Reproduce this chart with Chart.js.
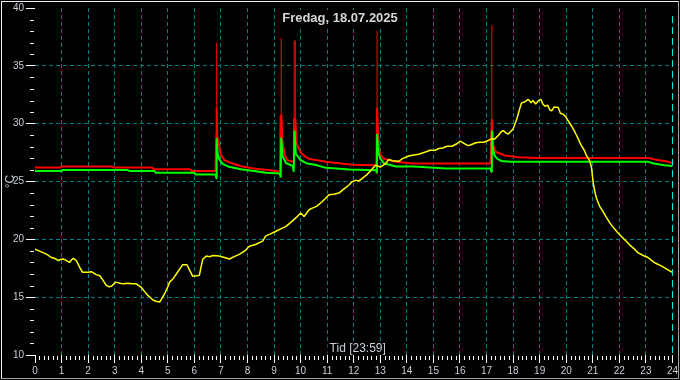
<!DOCTYPE html>
<html>
<head>
<meta charset="utf-8">
<script src="https://cdn.jsdelivr.net/npm/chart.js@4.4.1/dist/chart.umd.min.js"></script>
<style>
  html, body { margin: 0; padding: 0; background: #000; }
  #wrap { position: relative; width: 680px; height: 380px; }
  #frame {
    position: absolute; left: 1px; top: 1px; width: 678px; height: 378px;
    box-sizing: border-box; border: 1px solid; pointer-events: none;
    border-color: #f0f0f0 #a0a0a0 #a0a0a0 #f0f0f0;
  }
</style>
</head>
<body>
<div id="wrap">
  <canvas id="chart" width="680" height="380"></canvas>
  <div id="frame"></div>
</div>
<script>
// Tekster
const titleText = 'Fredag, 18.07.2025';
const xTitleText = 'Tid [23:59]';
const yTitleText = '°C';

// Akser
const xMin = 0, xMax = 24, xStep = 1;
const yMin = 10, yMax = 40, yStep = 5;

// Rød måler (timer / grader)
const redTimes = [0, 0.95, 1.0, 2.9, 3.0, 4.4, 4.5, 5.85, 5.9, 6.78, 6.8, 6.83, 6.84, 6.86, 6.9, 6.95, 7.0, 7.13, 7.45, 7.8, 8.3, 8.8, 9.22,
  9.25, 9.28, 9.31, 9.4, 9.5, 9.72, 9.75, 9.8, 9.85, 10.0, 10.15, 10.3, 10.95, 11.95, 12.85, 12.88, 12.92, 12.98, 13.1, 13.6, 14.25,
  17.15, 17.2, 17.25, 17.35, 17.7, 18.2, 18.95, 23.1, 23.45, 23.85, 24];
const redTemps = [26.2, 26.2, 26.3, 26.3, 26.2, 26.2, 26.05, 26.05, 25.9, 25.9, 26.5, 29.1, 31.4, 29.0, 28.6, 27.85, 27.3, 26.85, 26.55, 26.3, 26.1, 26.0, 25.85,
  30.7, 30.7, 28.6, 27.3, 26.85, 26.7, 30.4, 30.4, 28.3, 27.5, 27.2, 26.97, 26.7, 26.45, 26.4, 31.4, 29.0, 27.4, 27.0, 26.7, 26.55,
  26.55, 30.4, 28.1, 27.55, 27.25, 27.1, 27.03, 27.03, 26.85, 26.7, 26.6];

// Grønn måler
const greenTimes = [0, 1.0, 1.05, 3.5, 3.55, 4.5, 4.55, 6.0, 6.05, 6.8, 6.83, 6.84, 6.87, 6.93, 7.05, 7.3, 7.8, 8.25, 8.7, 9.22,
  9.25, 9.27, 9.32, 9.45, 9.7, 9.74, 9.77, 9.82, 10.0, 10.25, 10.55, 10.95, 11.85, 12.85, 12.87, 12.88, 12.92, 13.0, 13.15, 13.6, 14.26,
  15.5, 17.15, 17.18, 17.2, 17.25, 17.3, 17.4, 17.55, 17.9, 23.1, 23.3, 23.7, 24];
const greenTemps = [25.9, 25.9, 26.0, 26.0, 25.9, 25.9, 25.75, 25.75, 25.6, 25.6, 25.27, 28.75, 27.5, 26.97, 26.55, 26.27, 26.03, 25.9, 25.75, 25.7,
  25.35, 28.8, 27.2, 26.6, 26.35, 25.84, 29.4, 27.4, 26.85, 26.55, 26.45, 26.18, 26.03, 25.98, 25.7, 29.1, 27.6, 26.97, 26.55, 26.3, 26.3,
  26.12, 26.12, 25.84, 29.4, 27.7, 27.26, 26.97, 26.78, 26.7, 26.7, 26.55, 26.4, 26.35];

// Topper (tynne streker)
const spikeTimes = [6.84, 9.27, 9.76, 9.8, 12.88, 17.2];
const spikeBases = [31.4, 30.7, 30.4, 30.4, 31.4, 30.4];
const spikePeaks = [37.0, 37.4, 37.2, 37.2, 38.0, 38.5];

// Gul måler (ute)
const yellowTimes = [0, 0.15, 0.3, 0.45, 0.6, 0.75, 0.88, 0.95, 1.06, 1.15, 1.3, 1.38, 1.45, 1.56, 1.68, 1.79, 2.0, 2.12, 2.3, 2.44,
  2.55, 2.69, 2.8, 2.88, 3.04, 3.2, 3.31, 3.5, 3.65, 3.81, 4.0, 4.12, 4.25, 4.35, 4.44, 4.55, 4.69, 4.78, 4.88, 5.0,
  5.07, 5.2, 5.32, 5.45, 5.56, 5.72, 5.83, 5.94, 6.1, 6.19, 6.25, 6.32, 6.45, 6.57, 6.7, 6.94, 7.1, 7.32, 7.5, 7.69,
  7.9, 8.07, 8.3, 8.57, 8.69, 8.85, 9.07, 9.25, 9.44, 9.62, 9.82, 10.0, 10.13, 10.32, 10.44, 10.6, 10.82, 10.94, 11.07, 11.25,
  11.44, 11.6, 11.82, 11.94, 12.07, 12.2, 12.32, 12.5, 12.69, 12.82, 13.0, 13.1, 13.2, 13.32, 13.45, 13.7, 13.85, 14.07, 14.26, 14.45,
  14.7, 14.88, 15.07, 15.2, 15.35, 15.51, 15.7, 15.88, 16.01, 16.15, 16.3, 16.39, 16.6, 16.75, 16.89, 17.07, 17.2, 17.3, 17.45, 17.55,
  17.64, 17.73, 17.82, 17.92, 18.0, 18.14, 18.25, 18.32, 18.45, 18.57, 18.68, 18.75, 18.85, 18.95, 19.05, 19.12, 19.2, 19.3, 19.38, 19.45,
  19.55, 19.7, 19.78, 19.89, 19.98, 20.07, 20.2, 20.33, 20.45, 20.57, 20.68, 20.76, 20.88, 20.95, 21.01, 21.07, 21.14, 21.25, 21.39, 21.5,
  21.65, 21.8, 21.95, 22.1, 22.25, 22.4, 22.55, 22.7, 22.9, 23.08, 23.2, 23.35, 23.58, 23.8, 24.0];
const yellowTemps = [19.15, 19.0, 18.85, 18.7, 18.45, 18.35, 18.15, 18.25, 18.3, 18.2, 18.0, 18.25, 18.35, 18.15, 17.6, 17.15, 17.15, 17.2, 16.95, 16.85,
  16.5, 16.0, 15.9, 15.95, 16.3, 16.2, 16.15, 16.2, 16.15, 16.15, 15.85, 15.5, 15.15, 14.95, 14.75, 14.65, 14.58, 14.9, 15.3, 15.9,
  16.3, 16.6, 17.0, 17.45, 17.8, 17.8, 17.3, 16.8, 16.85, 16.9, 17.6, 18.3, 18.55, 18.5, 18.6, 18.55, 18.45, 18.3, 18.5, 18.7,
  19.0, 19.4, 19.55, 19.85, 20.3, 20.45, 20.7, 20.9, 21.1, 21.45, 21.85, 22.27, 21.98, 22.56, 22.7, 22.85, 23.27, 23.55, 23.85, 23.9,
  24.0, 24.3, 24.7, 24.98, 25.1, 25.05, 25.27, 25.6, 26.07, 26.4, 26.25, 26.4, 26.55, 26.9, 26.8, 26.75, 27.0, 27.2, 27.3, 27.35,
  27.55, 27.7, 27.7, 27.85, 27.9, 28.05, 28.05, 28.26, 28.5, 28.3, 28.1, 28.15, 28.35, 28.4, 28.4, 28.55, 28.7, 28.65, 29.0, 29.3,
  29.4, 29.2, 29.1, 29.35, 29.54, 30.4, 31.3, 31.8, 31.9, 32.1, 31.8, 32.0, 31.7, 31.97, 32.1, 31.7, 31.5, 31.6, 31.2, 31.1,
  31.45, 31.4, 30.9, 30.8, 30.6, 30.26, 29.8, 29.26, 28.7, 28.1, 27.7, 27.26, 26.8, 26.27, 25.0, 24.2, 23.55, 22.9, 22.4, 21.95,
  21.4, 20.95, 20.55, 20.2, 19.85, 19.5, 19.2, 18.85, 18.6, 18.43, 18.2, 17.95, 17.7, 17.4, 17.15];

// Farger
const COLORS = {
  red: '#ff0000',
  green: '#00ff00',
  yellow: '#ffff00',
  grid: '#008080',
  nowLine: '#00e8e8',
  tick: '#ffffff',
  label: '#c8ced8',
  title: '#d6d6d6'
};
const FONT = '"Liberation Sans", Arial, sans-serif';

function toPoints(times, temps) {
  return times.map((t, i) => ({ x: t, y: temps[i] }));
}

function spikePoints() {
  const pts = [];
  spikeTimes.forEach((t, i) => {
    pts.push({ x: t, y: spikeBases[i] });
    pts.push({ x: t, y: spikePeaks[i] });
    pts.push({ x: t, y: null });
  });
  return pts;
}

// Tekst, små streker og "nå"-linje
const overlayPlugin = {
  id: 'overlay',
  afterDraw(chart) {
    const { ctx, chartArea } = chart;
    const x = chart.scales.x;
    const y = chart.scales.y;
    ctx.save();

    // små streker på y-aksen (hver grad)
    ctx.strokeStyle = COLORS.tick;
    ctx.lineWidth = 1;
    ctx.beginPath();
    for (let v = yMin + 1; v < yMax; v++) {
      if (v % yStep === 0) continue;
      const py = Math.round(y.getPixelForValue(v)) + 0.5;
      ctx.moveTo(chartArea.left - 5, py);
      ctx.lineTo(chartArea.left - 1, py);
    }
    // små streker på x-aksen (hvert 10. minutt)
    for (let m = 0; m < xMax * 60; m += 10) {
      if (m % 60 === 0) continue;
      const px = Math.round(x.getPixelForValue(m / 60)) + 0.5;
      ctx.moveTo(px, chartArea.bottom + 1);
      ctx.lineTo(px, chartArea.bottom + 5);
    }
    ctx.stroke();

    // "nå"-linje ved 23:59
    const nowX = Math.round(x.getPixelForValue(23 + 59 / 60)) + 0.5;
    ctx.strokeStyle = COLORS.nowLine;
    ctx.setLineDash([7, 4]);
    ctx.beginPath();
    ctx.moveTo(nowX, chartArea.top + 8);
    ctx.lineTo(nowX, chartArea.bottom);
    ctx.stroke();
    ctx.setLineDash([]);

    // tittel
    ctx.font = 'bold 13px ' + FONT;
    ctx.textAlign = 'center';
    ctx.textBaseline = 'middle';
    let w = ctx.measureText(titleText).width;
    ctx.fillStyle = '#000';
    ctx.fillRect(340 - w / 2 - 3, 10, w + 6, 16);
    ctx.fillStyle = COLORS.title;
    ctx.fillText(titleText, 340, 18);

    // x-tittel inne i plottet
    ctx.font = '12px ' + FONT;
    w = ctx.measureText(xTitleText).width;
    const cx = (chartArea.left + chartArea.right) / 2 + 4;
    ctx.fillStyle = '#000';
    ctx.fillRect(cx - w / 2 - 2, chartArea.bottom - 13, w + 4, 13);
    ctx.fillStyle = COLORS.label;
    ctx.fillText(xTitleText, cx, chartArea.bottom - 6);

    ctx.restore();
  }
};

const ctx = document.getElementById('chart').getContext('2d');

new Chart(ctx, {
  type: 'line',
  data: {
    datasets: [
      {
        label: 'Ute',
        data: toPoints(yellowTimes, yellowTemps),
        borderColor: COLORS.yellow,
        borderWidth: 1.5
      },
      {
        label: 'Grønn',
        data: toPoints(greenTimes, greenTemps),
        borderColor: COLORS.green,
        borderWidth: 2
      },
      {
        label: 'Rød',
        data: toPoints(redTimes, redTemps),
        borderColor: COLORS.red,
        borderWidth: 2
      },
      {
        label: 'Topper',
        data: spikePoints(),
        borderColor: COLORS.red,
        borderWidth: 1,
        spanGaps: false
      }
    ]
  },
  options: {
    responsive: false,
    animation: false,
    events: [],
    layout: { padding: { top: 4, right: 5, left: 0, bottom: 0 } },
    elements: {
      point: { radius: 0 },
      line: { tension: 0, borderJoinStyle: 'bevel' }
    },
    plugins: {
      legend: { display: false },
      tooltip: { enabled: false }
    },
    scales: {
      x: {
        type: 'linear',
        min: xMin,
        max: xMax,
        afterFit: s => { s.height = 25; },
        border: { display: false, dash: [4, 3] },
        grid: {
          color: c => (c.tick && c.tick.value > xMin && c.tick.value < xMax) ? COLORS.grid : 'transparent',
          tickColor: COLORS.tick,
          tickLength: 8,
          tickBorderDash: [],
          lineWidth: 1
        },
        ticks: {
          stepSize: xStep,
          autoSkip: false,
          maxRotation: 0,
          padding: 2,
          color: COLORS.label,
          font: { family: FONT, size: 10 }
        }
      },
      y: {
        min: yMin,
        max: yMax,
        afterFit: s => { s.width = 35; },
        border: { display: false, dash: [4, 3] },
        grid: {
          color: c => (c.tick && c.tick.value > yMin && c.tick.value < yMax) ? COLORS.grid : 'transparent',
          tickColor: COLORS.tick,
          tickLength: 9,
          tickBorderDash: [],
          lineWidth: 1
        },
        ticks: {
          stepSize: yStep,
          padding: 2,
          color: COLORS.label,
          font: { family: FONT, size: 10 }
        },
        title: {
          display: true,
          text: yTitleText,
          color: COLORS.label,
          font: { family: FONT, size: 12 },
          padding: { top: 3, bottom: 0 }
        }
      }
    }
  },
  plugins: [overlayPlugin]
});
</script>
</body>
</html>
